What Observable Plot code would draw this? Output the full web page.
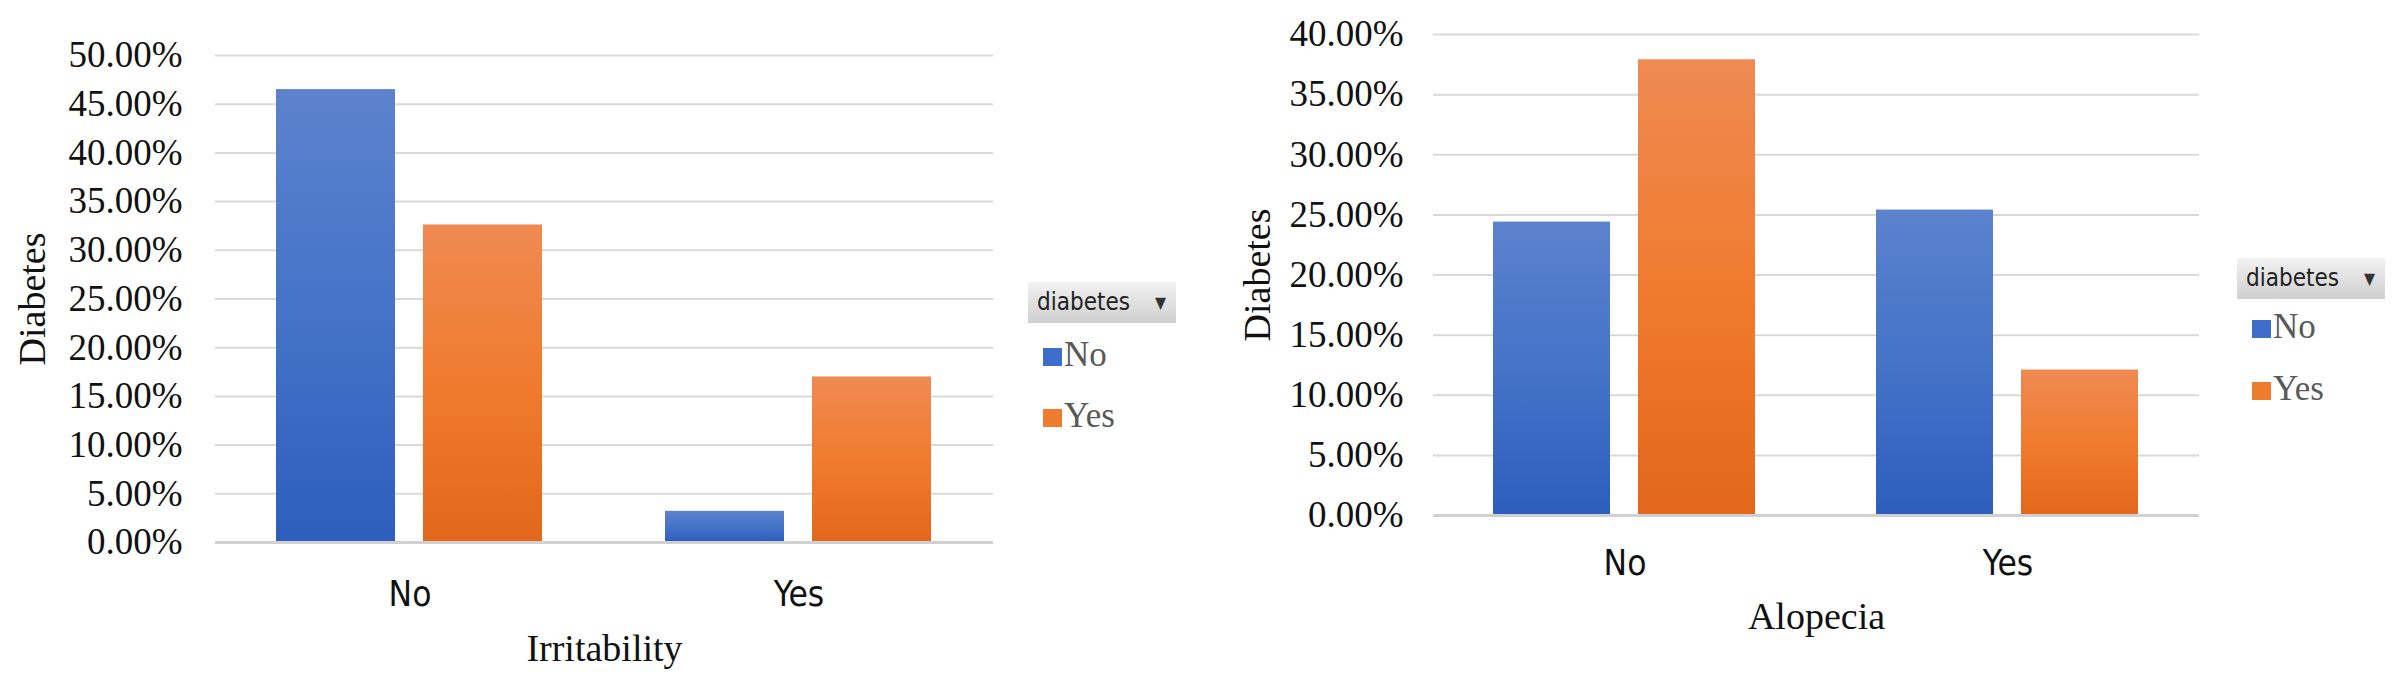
<!DOCTYPE html>
<html>
<head>
<meta charset="utf-8">
<script src="https://cdn.jsdelivr.net/npm/d3@7"></script>
<script src="https://cdn.jsdelivr.net/npm/@observablehq/plot@0.6"></script>
<style>
  html, body { margin: 0; padding: 0; background: #ffffff; }
  #page { position: relative; width: 2395px; height: 687px; overflow: hidden; background: #fff; }
  .chart { position: absolute; top: 0; }
  .legend-head {
    position: absolute; height: 41px; box-sizing: border-box;
    background: linear-gradient(#f2f2f2, #cfcfcf);
    font-family: "Liberation Sans Narrow", "DejaVu Sans Condensed", "Liberation Sans", sans-serif;
    font-size: 24px; color: #222; line-height: 41px; padding-left: 9px;
  }
  .legend-head .arrow { position: absolute; right: 10px; top: 0; font-size: 16px; color: #333; }
  .legend-item { position: absolute; font-family: "Liberation Serif", "DejaVu Serif", serif; font-size: 35px; color: #595959; line-height: 1; }
  .swatch { position: absolute; width: 19px; height: 18px; }
</style>
</head>
<body>
<div id="page"></div>
<script>
// ---------- data ----------
const categories = ["No", "Yes"];          // symptom present?
const seriesNames = ["No", "Yes"];         // diabetes (legend)
const irritabilityDiabNo  = [46.5, 3.2];   // % (blue)
const irritabilityDiabYes = [32.6, 17.0];  // % (orange)
const alopeciaDiabNo  = [24.4, 25.4];      // % (blue)
const alopeciaDiabYes = [37.9, 12.1];      // % (orange)
const irritabilityTicks = [0, 5, 10, 15, 20, 25, 30, 35, 40, 45, 50];
const alopeciaTicks = [0, 5, 10, 15, 20, 25, 30, 35, 40];
const yTitle = "Diabetes";
const legendTitle = "diabetes";

// ---------- helpers ----------
const serif = "'Liberation Serif', 'DejaVu Serif', serif";
const narrow = "'Liberation Sans Narrow', 'DejaVu Sans Condensed', 'Liberation Sans', sans-serif";

function rows(vals, s) {
  return categories.map((c, i) => ({cat: c, series: s, value: vals[i]}));
}

// gradient defs (shared)
const defsSvg = d3.select("body").append("svg").attr("width", 0).attr("height", 0).style("position", "absolute");
const defs = defsSvg.append("defs");
function grad(id, stops) {
  const g = defs.append("linearGradient").attr("id", id).attr("x1", 0).attr("y1", 0).attr("x2", 0).attr("y2", 1);
  stops.forEach(([o, c]) => g.append("stop").attr("offset", o).attr("stop-color", c));
}
grad("gBlue", [[0, "#5c82cc"], [0.5, "#4473c8"], [1, "#2d5ebd"]]);
grad("gOrange", [[0, "#ef8a52"], [0.5, "#f07b2f"], [1, "#e2671a"]]);

function makeChart(o) {
  const noRows = rows(o.diabNo, seriesNames[0]);
  const yesRows = rows(o.diabYes, seriesNames[1]);
  return Plot.plot({
    width: o.width, height: 687,
    marginLeft: o.marginLeft, marginRight: o.marginRight,
    marginTop: o.marginTop, marginBottom: o.marginBottom,
    style: {background: "transparent", overflow: "visible"},
    fx: {domain: categories, paddingInner: 0, paddingOuter: 0},
    x: {domain: seriesNames, paddingInner: 0.19, paddingOuter: 0.41, axis: null},
    y: {domain: [0, d3.max(o.ticks)]},
    marks: [
      Plot.gridY(o.ticks, {stroke: "#d9d9d9", strokeWidth: 2, strokeOpacity: 1}),
      Plot.barY(noRows, {fx: "cat", x: "series", y: "value", fill: "url(#gBlue)"}),
      Plot.barY(yesRows, {fx: "cat", x: "series", y: "value", fill: "url(#gOrange)"}),
      Plot.ruleY([0], {stroke: "#d0d0d0", strokeWidth: 3}),
      Plot.axisY(o.ticks, {tickSize: 0, tickPadding: o.tickPad, tickFormat: d => d.toFixed(2) + "%",
        fontSize: 37, fontFamily: serif, fill: "#111", label: null}),
      Plot.axisFx({anchor: "bottom", tickSize: 0, tickPadding: o.fxPad, fontSize: 35, fontFamily: narrow, fill: "#111", label: null}),
      Plot.text([yTitle], {text: d => d, frameAnchor: "left", dx: o.yTitleDx, dy: o.yTitleDy, rotate: -90,
        textAnchor: "middle", lineAnchor: "middle",
        fontSize: 38, fontFamily: serif, fill: "#111", facet: "super"}),
      Plot.text([o.xTitle], {text: d => d, frameAnchor: "bottom", dy: o.xTitleDy,
        fontSize: 38, fontFamily: serif, fill: "#111", facet: "super"})
    ]
  });
}

const page = document.getElementById("page");

function place(el, left) {
  el.classList.add("chart");
  el.style.left = left + "px";
  page.appendChild(el);
}

// left chart
place(makeChart({
  width: 1000, marginLeft: 214, marginRight: 7, marginTop: 55, marginBottom: 145,
  diabNo: irritabilityDiabNo, diabYes: irritabilityDiabYes, ticks: irritabilityTicks,
  xTitle: "Irritability", tickPad: 33, fxPad: 39, yTitleDx: -183, yTitleDy: 0, xTitleDy: 118
}), 0);

// right chart
place(makeChart({
  width: 1010, marginLeft: 232, marginRight: 11, marginTop: 34, marginBottom: 172,
  diabNo: alopeciaDiabNo, diabYes: alopeciaDiabYes, ticks: alopeciaTicks,
  xTitle: "Alopecia", tickPad: 30, fxPad: 35, yTitleDx: -176, yTitleDy: 0, xTitleDy: 113
}), 1200);

// legends
function legend(x, y, swY1, swY2) {
  const head = document.createElement("div");
  head.className = "legend-head";
  head.style.left = x + "px"; head.style.top = y + "px"; head.style.width = "148px";
  head.innerHTML = legendTitle + '<span class="arrow">&#9660;</span>';
  page.appendChild(head);
  const colors = ["#3e6ecb", "#ef7b2c"];
  [swY1, swY2].forEach((sy, i) => {
    const sw = document.createElement("div");
    sw.className = "swatch";
    sw.style.left = (x + 15) + "px"; sw.style.top = sy + "px"; sw.style.background = colors[i];
    page.appendChild(sw);
    const t = document.createElement("div");
    t.className = "legend-item";
    t.textContent = seriesNames[i];
    t.style.left = (x + 36) + "px"; t.style.top = (sy - 11) + "px";
    page.appendChild(t);
  });
}
legend(1028, 282, 348, 409);
legend(2237, 258, 320, 382);
</script>
</body>
</html>
